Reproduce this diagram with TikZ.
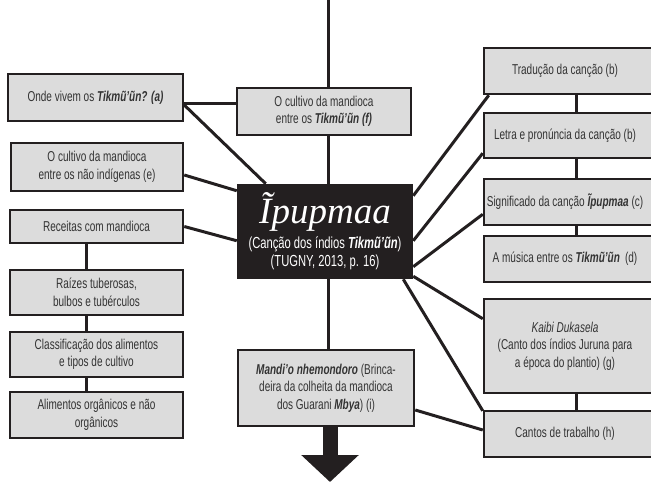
\documentclass[tikz,border=0pt]{standalone}
\usepackage{fontspec}
\setmainfont{Liberation Sans}[FakeStretch=0.7]
\newfontfamily\titlefont{Liberation Serif}
\usetikzlibrary{arrows.meta}
\definecolor{boxfill}{HTML}{DCDCDC}
\definecolor{ink}{HTML}{231F20}
\definecolor{txt}{HTML}{333333}
\newcommand{\bi}[1]{\textbf{\textit{#1}}}
\begin{document}
\begin{tikzpicture}[x=1pt,y=-1pt,
  box/.style={draw=ink, line width=2.5pt, fill=boxfill, text=txt, align=center,
    inner sep=2pt, font=\fontsize{14.3}{17.5}\selectfont},
  link/.style={draw=ink, line width=3pt}]
\useasboundingbox (0,0) rectangle (651,482);
% left column
\node[box, minimum width=175pt, minimum height=47pt] (a) at (95.5,97.5) {Onde vivem os \bi{Tikmũ’ũn? (a)}};
\node[box, minimum width=172pt, minimum height=48pt] (e) at (97,167) {O cultivo da mandioca\\entre os não indígenas (e)};
\node[box, minimum width=173pt, minimum height=33pt] (rec) at (96.5,226.5) {Receitas com mandioca};
\node[box, minimum width=173pt, minimum height=45pt] (raiz) at (96.5,292.5) {Raízes tuberosas,\\bulbos e tubérculos};
\node[box, minimum width=173pt, minimum height=45pt] (cla) at (96.5,354.5) {Classificação dos alimentos\\e tipos de cultivo};
\node[box, minimum width=173pt, minimum height=46pt] (ali) at (96.5,415) {Alimentos orgânicos e não\\orgânicos};
% centre
\node[box, minimum width=174pt, minimum height=47pt] (f) at (324,111.5) {O cultivo da mandioca\\entre os \bi{Tikmũ’ũn (f)}};
\node[draw=ink, fill=ink, line width=2.5pt, text=white, align=center, inner sep=2pt,
  minimum width=174pt, minimum height=93pt, font=\fontsize{16}{18.5}\selectfont] (c) at (325,231.5)
  {{\titlefont\itshape\fontsize{37}{38}\selectfont Ĩpupmaa}\\[4pt]
   (Canção dos índios \bi{Tikmũ’ũn})\\
   (TUGNY, 2013, p. 16)};
\node[box, minimum width=176pt, minimum height=76pt] (m) at (326,388)
  {\bi{Mandi’o nhemondoro} (Brinca-\\deira da colheita da mandioca\\dos Guarani \bi{Mbya}) (i)};
% right column
\node[box, minimum width=176pt, minimum height=46pt] (trad) at (572,71) {\hspace*{-14pt}Tradução da canção (b)};
\node[box, minimum width=176pt, minimum height=45pt] (let) at (572,135.5) {\hspace*{-14pt}Letra e pronúncia da canção (b)};
\node[box, minimum width=176pt, minimum height=46pt] (sig) at (572,202) {\hspace*{-14pt}Significado da canção \bi{Ĩpupmaa} (c)};
\node[box, minimum width=176pt, minimum height=46pt] (mus) at (572,259) {\hspace*{-14pt}A música entre os \bi{Tikmũ’ũn}\, (d)};
\node[box, minimum width=176pt, minimum height=94pt] (kai) at (572,346) {\hspace*{-14pt}\textit{Kaibi Dukasela}\\\hspace*{-14pt}(Canto dos índios Juruna para\\\hspace*{-14pt}a época do plantio) (g)};
\node[box, minimum width=176pt, minimum height=46pt] (can) at (572,434) {\hspace*{-14pt}Cantos de trabalho (h)};
% connectors
\coordinate (top) at (328,0);
\coordinate (tip) at (330,482);
\draw[link] (top) -- (top |- f.north);
\draw[link] (f.south -| top) -- (c.north -| top);
\draw[link] (c.south -| top) -- (m.north -| top);
\draw[link] ([yshift=-5.5pt]a.east) -- ([yshift=8.5pt]f.west);
\draw[link] ([yshift=-7.5pt]a.east) -- ([xshift=29pt]c.north west);
\draw[link] ([yshift=-8pt]e.east) -- ([yshift=-7pt]c.north west);
\draw[link] (rec.east) -- ([yshift=-57pt]c.north west);
\draw[link] ([xshift=-10.5pt]rec.south) -- ([xshift=-10.5pt]raiz.north);
\draw[link] ([xshift=-10.5pt]raiz.south) -- ([xshift=-10.5pt]cla.north);
\draw[link] ([xshift=-10.5pt]cla.south) -- ([xshift=-10.5pt]ali.north);
\draw[link] ([xshift=4pt]trad.south) -- ([xshift=4pt]let.north);
\draw[link] ([xshift=4pt]let.south) -- ([xshift=4pt]sig.north);
\draw[link] ([xshift=4pt]sig.south) -- ([xshift=4pt]mus.north);
\draw[link] ([xshift=4pt]kai.south) -- ([xshift=4pt]can.north);
\draw[link] ([yshift=-12pt]c.north east) -- ([xshift=6pt]trad.south west);
\draw[link] ([yshift=-57pt]c.north east) -- ([yshift=6pt]let.south west);
\draw[link] ([yshift=-83pt]c.north east) -- ([yshift=12pt]sig.south west);
\draw[link] ([yshift=3pt]c.south east) -- ([yshift=-21pt]kai.north west);
\draw[link] ([xshift=-10pt]c.south east) -- ([yshift=-1pt]can.north west);
\draw[link] ([yshift=-22pt]m.east) -- ([yshift=4pt]can.west);
\draw[draw=ink, line width=15pt, -{Triangle[width=56pt,length=27pt]}, ink] (m.south -| tip) -- (tip);
\end{tikzpicture}
\end{document}
